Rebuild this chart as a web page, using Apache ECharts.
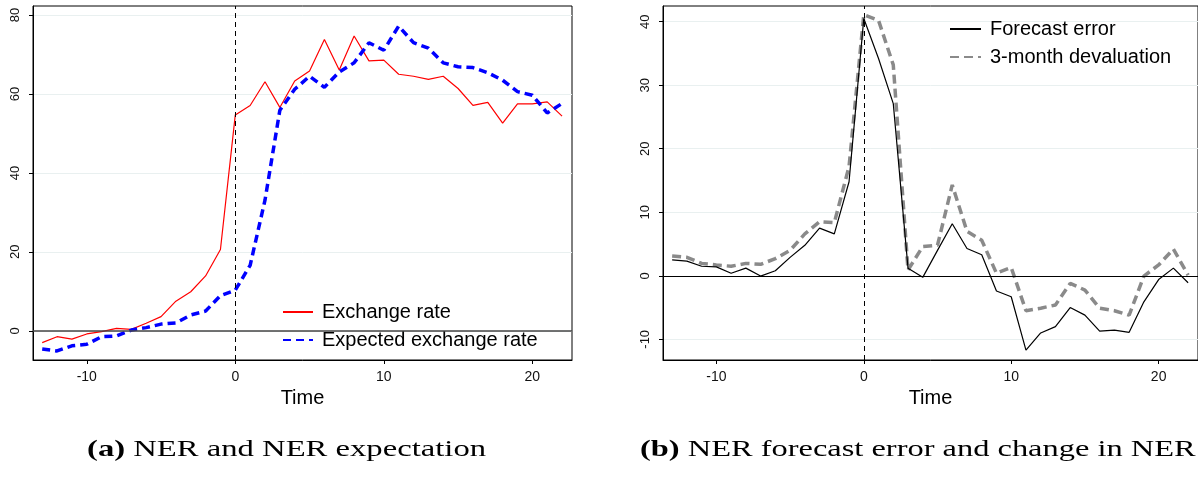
<!DOCTYPE html>
<html>
<head>
<meta charset="utf-8">
<script src="https://cdn.jsdelivr.net/npm/echarts@6/dist/echarts.min.js"></script>
<style>
  html, body { margin: 0; padding: 0; background: #ffffff; }
  #chart { width: 1198px; height: 477px; }
</style>
</head>
<body>
<div id="chart"></div>
<script>
// ---- data (months relative to event) ----
const months = [-13,-12,-11,-10,-9,-8,-7,-6,-5,-4,-3,-2,-1,0,1,2,3,4,5,6,7,8,9,10,11,12,13,14,15,16,17,18,19,20,21,22];

// panel (a)
const exchangeRate = [-3.0,-1.5,-2.1,-0.8,-0.2,0.6,0.35,1.9,3.6,7.5,9.9,13.9,20.6,
  54.7,57.1,63.1,56.6,63.3,65.8,73.8,66.1,74.7,68.4,68.6,65.0,64.5,63.7,64.5,61.4,57.1,57.9,52.6,57.5,57.5,58.0,54.4];
const expectedRate = [-4.6,-5.1,-3.8,-3.4,-1.5,-1.3,0.2,0.8,1.7,2.0,4.0,5.0,8.9,
  10.3,16.6,33.1,55.9,61.2,64.5,61.7,65.6,67.9,73.0,71.1,77.2,73.0,71.6,67.9,66.9,66.7,65.4,63.5,60.6,59.7,55.2,57.6];

// panel (b)
const forecastError = [2.5,2.3,1.5,1.4,0.4,1.2,-0.05,0.8,2.9,4.8,7.5,6.6,14.8,
  40.5,34.2,27.1,1.2,-0.25,4.0,8.2,4.3,3.3,-2.4,-3.3,-11.7,-9.0,-8.0,-5.0,-6.2,-8.7,-8.55,-8.9,-4.1,-0.6,1.2,-1.1];
const devaluation3m = [3.1,2.9,1.95,1.7,1.5,1.95,1.8,2.7,4.0,6.6,8.5,8.35,17.2,
  41.1,40.2,33.2,0.9,4.6,4.8,14.3,7.0,5.6,0.4,1.3,-5.5,-5.1,-4.6,-1.2,-2.25,-5.1,-5.5,-6.2,-0.05,1.7,4.2,0.1];

// tick labels
const xTicks = [-10, 0, 10, 20];
const yTicksA = [0, 20, 40, 60, 80];
const yTicksB = [-10, 0, 10, 20, 30, 40];

// text
const seriesNamesA = ['Exchange rate', 'Expected exchange rate'];
const seriesNamesB = ['Forecast error', '3-month devaluation'];
const xAxisTitle = 'Time';
const captionA = ['(a)', 'NER and NER expectation'];
const captionB = ['(b)', 'NER forecast error and change in NER'];

// ---- build ----
const pairs = (vals) => months.map((m, i) => [m, vals[i]]);
const SANS = 'Liberation Sans, Arial, Helvetica, sans-serif';
const SERIF = 'Liberation Serif, Times New Roman, serif';

function xAxisFor(gridIndex) {
  return {
    type: 'value', gridIndex: gridIndex,
    min: -13.62, max: 22.67,
    name: xAxisTitle, nameLocation: 'middle', nameGap: 25,
    nameTextStyle: { fontFamily: SANS, fontSize: 20, color: '#000' },
    axisLine: { show: true, onZero: false, lineStyle: { color: '#000', width: 1 } },
    axisTick: { show: true, inside: false, length: 4, customValues: xTicks, lineStyle: { color: '#000' } },
    axisLabel: { show: true, margin: 10, customValues: xTicks, fontFamily: SANS, fontSize: 14, color: '#111' },
    splitLine: { show: false }
  };
}
function yAxisFor(gridIndex, min, max, ticks) {
  return {
    type: 'value', gridIndex: gridIndex,
    min: min, max: max,
    axisLine: { show: true, onZero: false, lineStyle: { color: '#000', width: 1 } },
    axisTick: { show: true, inside: false, length: 4, customValues: ticks, lineStyle: { color: '#000' } },
    axisLabel: { show: true, rotate: 90, margin: 11, customValues: ticks, fontFamily: SANS, fontSize: 13, color: '#111' },
    splitLine: { show: true, lineStyle: { color: '#e9f0f0', width: 1 } }
  };
}
function refLines(zeroColor, zeroWidth) {
  return {
    silent: true, symbol: 'none', animation: false,
    label: { show: false },
    data: [
      { yAxis: 0, lineStyle: { color: zeroColor, width: zeroWidth, type: 'solid' } },
      { xAxis: 0, lineStyle: { color: '#000', width: 1, type: [5, 4] } }
    ]
  };
}
function legendFor(names, left, top, itemWidth) {
  return {
    data: names, orient: 'vertical', left: left, top: top, padding: 0,
    itemWidth: itemWidth, itemHeight: 14, itemGap: 8,
    itemStyle: { opacity: 0 },
    textStyle: { fontFamily: SANS, fontSize: 20, color: '#000', padding: [0, 0, 0, 4] }
  };
}

const chart = echarts.init(document.getElementById('chart'), null, { renderer: 'canvas' });
chart.setOption({
  animation: false,
  backgroundColor: '#ffffff',
  grid: [
    { left: 33, top: 6, width: 539, height: 354, show: true, borderColor: '#000', borderWidth: 1, backgroundColor: 'transparent' },
    { left: 663, top: 6, width: 539, height: 354, show: true, borderColor: '#000', borderWidth: 1, backgroundColor: 'transparent' }
  ],
  xAxis: [ xAxisFor(0), xAxisFor(1) ],
  yAxis: [ yAxisFor(0, -7.4, 82.3, yTicksA), yAxisFor(1, -13.26, 42.47, yTicksB) ],
  legend: [ legendFor(seriesNamesA, 282, 302, 30), legendFor(seriesNamesB, 949, 19, 31) ],
  series: [
    {
      name: seriesNamesA[0], type: 'line', xAxisIndex: 0, yAxisIndex: 0,
      data: pairs(exchangeRate), showSymbol: false, symbol: 'none',
      lineStyle: { color: '#ff0000', width: 1.2 }, itemStyle: { color: '#ff0000' },
      markLine: refLines('#444', 1.5), z: 3
    },
    {
      name: seriesNamesA[1], type: 'line', xAxisIndex: 0, yAxisIndex: 0,
      data: pairs(expectedRate), showSymbol: false, symbol: 'none',
      lineStyle: { color: '#0000ff', width: 3.5, type: [8, 5] }, itemStyle: { color: '#0000ff' }, z: 4
    },
    {
      name: seriesNamesB[0], type: 'line', xAxisIndex: 1, yAxisIndex: 1,
      data: pairs(forecastError), showSymbol: false, symbol: 'none',
      lineStyle: { color: '#000000', width: 1.2 }, itemStyle: { color: '#000000' },
      markLine: refLines('#000', 1.2), z: 4
    },
    {
      name: seriesNamesB[1], type: 'line', xAxisIndex: 1, yAxisIndex: 1,
      data: pairs(devaluation3m), showSymbol: false, symbol: 'none',
      lineStyle: { color: '#8a8a8a', width: 3.5, type: [9, 5] }, itemStyle: { color: '#8a8a8a' }, z: 3
    }
  ],
  graphic: [
    {
      type: 'text', x: 87, y: 450, scaleX: 1.42, scaleY: 1,
      style: {
        text: '{b|' + captionA[0] + '} ' + captionA[1],
        font: '23px ' + SERIF, fill: '#000', align: 'left', verticalAlign: 'middle',
        rich: { b: { fontWeight: 'bold', fontSize: 23, fontFamily: SERIF } }
      }
    },
    {
      type: 'text', x: 640, y: 450, scaleX: 1.41, scaleY: 1,
      style: {
        text: '{b|' + captionB[0] + '} ' + captionB[1],
        font: '23px ' + SERIF, fill: '#000', align: 'left', verticalAlign: 'middle',
        rich: { b: { fontWeight: 'bold', fontSize: 23, fontFamily: SERIF } }
      }
    }
  ]
});
</script>
</body>
</html>
